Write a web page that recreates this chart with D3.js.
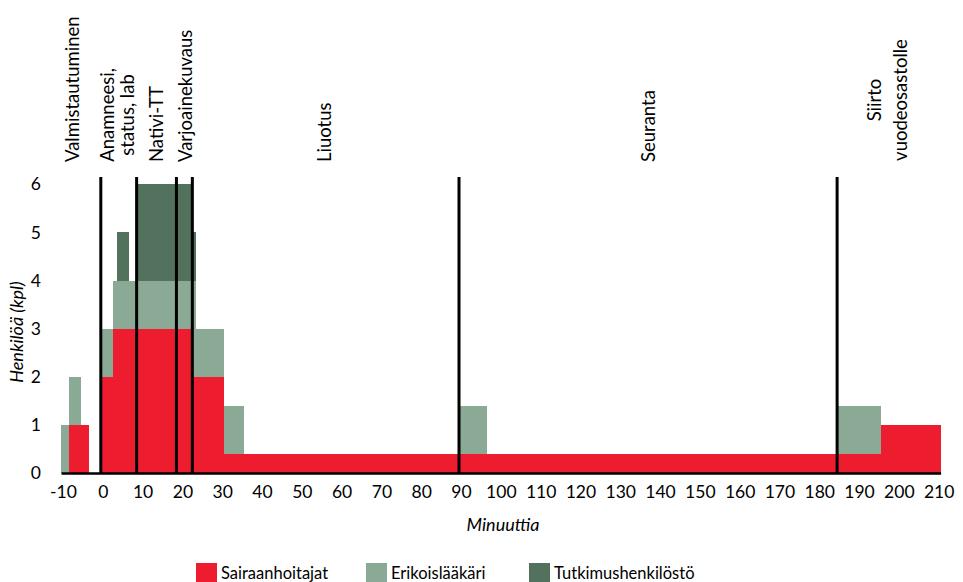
<!DOCTYPE html>
<html><head><meta charset="utf-8">
<script src="https://cdn.jsdelivr.net/npm/d3@7"></script>
<style>
body{margin:0;background:#fff}
text{font-family:Lato,"Open Sans",sans-serif;fill:#000}
</style>
</head><body>
<svg id="c" width="963" height="582"></svg>
<script>
// ---- data ----
const edges = [-10.5, -8.5, -5.5, -3.5, -0.5, 2.5, 3.5, 6.5, 8.5, 22.5, 23.5, 30.5, 35.5, 89.5, 96.5, 184.5, 195.5, 210.5];
const seriesNames = ["Sairaanhoitajat", "Erikoislääkäri", "Tutkimushenkilöstö"];
const sairaanhoitajat    = [0, 1, 1, 0, 2, 3, 3, 3, 3, 2, 2, 0.4, 0.4, 0.4, 0.4, 0.4, 1];
const erikoislaakari     = [1, 1, 0, 0, 1, 1, 1, 1, 1, 2, 1, 1,   0,   1,   0,   1,   0];
const tutkimushenkilosto = [0, 0, 0, 0, 0, 0, 1, 0, 2, 1, 0, 0,   0,   0,   0,   0,   0];
const phaseLines = [-0.5, 8.5, 18.5, 22.5, 89.5, 184.5];
const phaseText  = ["Valmistautuminen", "Anamneesi,", "status, lab", "Nativi-TT", "Varjoainekuvaus", "Liuotus", "Seuranta", "Siirto", "vuodeosastolle"];
const phaseTextX = [-7.7, 1.1, 6.1, 13.6, 20.9, 55.8, 137, 193.8, 200.5];
const phaseGroup = [0, 1, 1, 0, 0, 0, 0, 2, 2]; // 0 = single line, >0 = two-line block id
const xTicks = d3.range(-10, 211, 10);
const yTicks = [0, 1, 2, 3, 4, 5, 6];
const colors = ["#ED1C2E", "#8AAA96", "#52725E"];

// ---- layout ----
const svg = d3.select("#c");
const x = d3.scaleLinear().domain([-10.5, 210.5]).range([61, 940.6]);
const y = d3.scaleLinear().domain([0, 6]).range([473, 184.3]);

const rows = sairaanhoitajat.map((v, i) => ({
  i, x0: edges[i], x1: edges[i + 1],
  [seriesNames[0]]: v, [seriesNames[1]]: erikoislaakari[i], [seriesNames[2]]: tutkimushenkilosto[i]
}));
const stacked = d3.stack().keys(seriesNames)(rows);

svg.append("g").selectAll("g").data(stacked).join("g")
  .attr("fill", (d, k) => colors[k])
  .selectAll("rect").data(d => d.filter(s => s[1] - s[0] > 0)).join("rect")
  .attr("x", d => x(d.data.x0))
  .attr("width", d => x(d.data.x1) - x(d.data.x0))
  .attr("y", d => y(d[1]))
  .attr("height", d => y(d[0]) - y(d[1]))
  .attr("shape-rendering", "crispEdges");

// phase lines
svg.append("g").selectAll("line").data(phaseLines).join("line")
  .attr("x1", d => x(d)).attr("x2", d => x(d))
  .attr("y1", 177).attr("y2", 473)
  .attr("stroke", "#000").attr("stroke-width", 3);

// x axis
const xAxis = d3.axisBottom(x).tickValues(xTicks).tickFormat(d => String(d)).tickSize(0).tickPadding(13);
const gx = svg.append("g").attr("transform", "translate(0,473)").call(xAxis);
gx.select(".domain").attr("stroke", "#000").attr("stroke-width", 2.5);
gx.selectAll("text").style("font-size", "17.5px").style("font-family", "Lato");

// y axis
const yAxis = d3.axisLeft(y).tickValues(yTicks).tickFormat(d => String(d)).tickSize(0).tickPadding(0);
const gy = svg.append("g").attr("transform", "translate(41,0)").call(yAxis);
gy.select(".domain").remove();
gy.selectAll("text").style("font-size", "17.5px").style("font-family", "Lato");

// axis titles
svg.append("text").attr("x", 503).attr("y", 531).attr("text-anchor", "middle")
  .style("font-style", "italic").style("font-size", "18px").text("Minuuttia");
svg.append("text").attr("transform", "translate(23,332) rotate(-90)").attr("text-anchor", "middle")
  .style("font-style", "italic").style("font-size", "18px").text("Henkilöä (kpl)");

// phase labels (rotated)
const blockCenter = {1: 115, 2: 100};
phaseText.forEach((t, i) => {
  const g = phaseGroup[i];
  const cy = g === 0 ? 162 : blockCenter[g];
  svg.append("text")
    .attr("transform", `translate(${x(phaseTextX[i]) + 6.5},${cy}) rotate(-90)`)
    .attr("text-anchor", g === 0 ? "start" : "middle")
    .style("font-size", "18.5px")
    .text(t);
});

// legend
const legX = [196, 366, 529];
seriesNames.forEach((n, k) => {
  svg.append("rect").attr("x", legX[k]).attr("y", 563).attr("width", 21).attr("height", 20).attr("fill", colors[k]);
  svg.append("text").attr("x", legX[k] + 25).attr("y", 579).style("font-size", "16.5px").text(n);
});
</script>
</body></html>
